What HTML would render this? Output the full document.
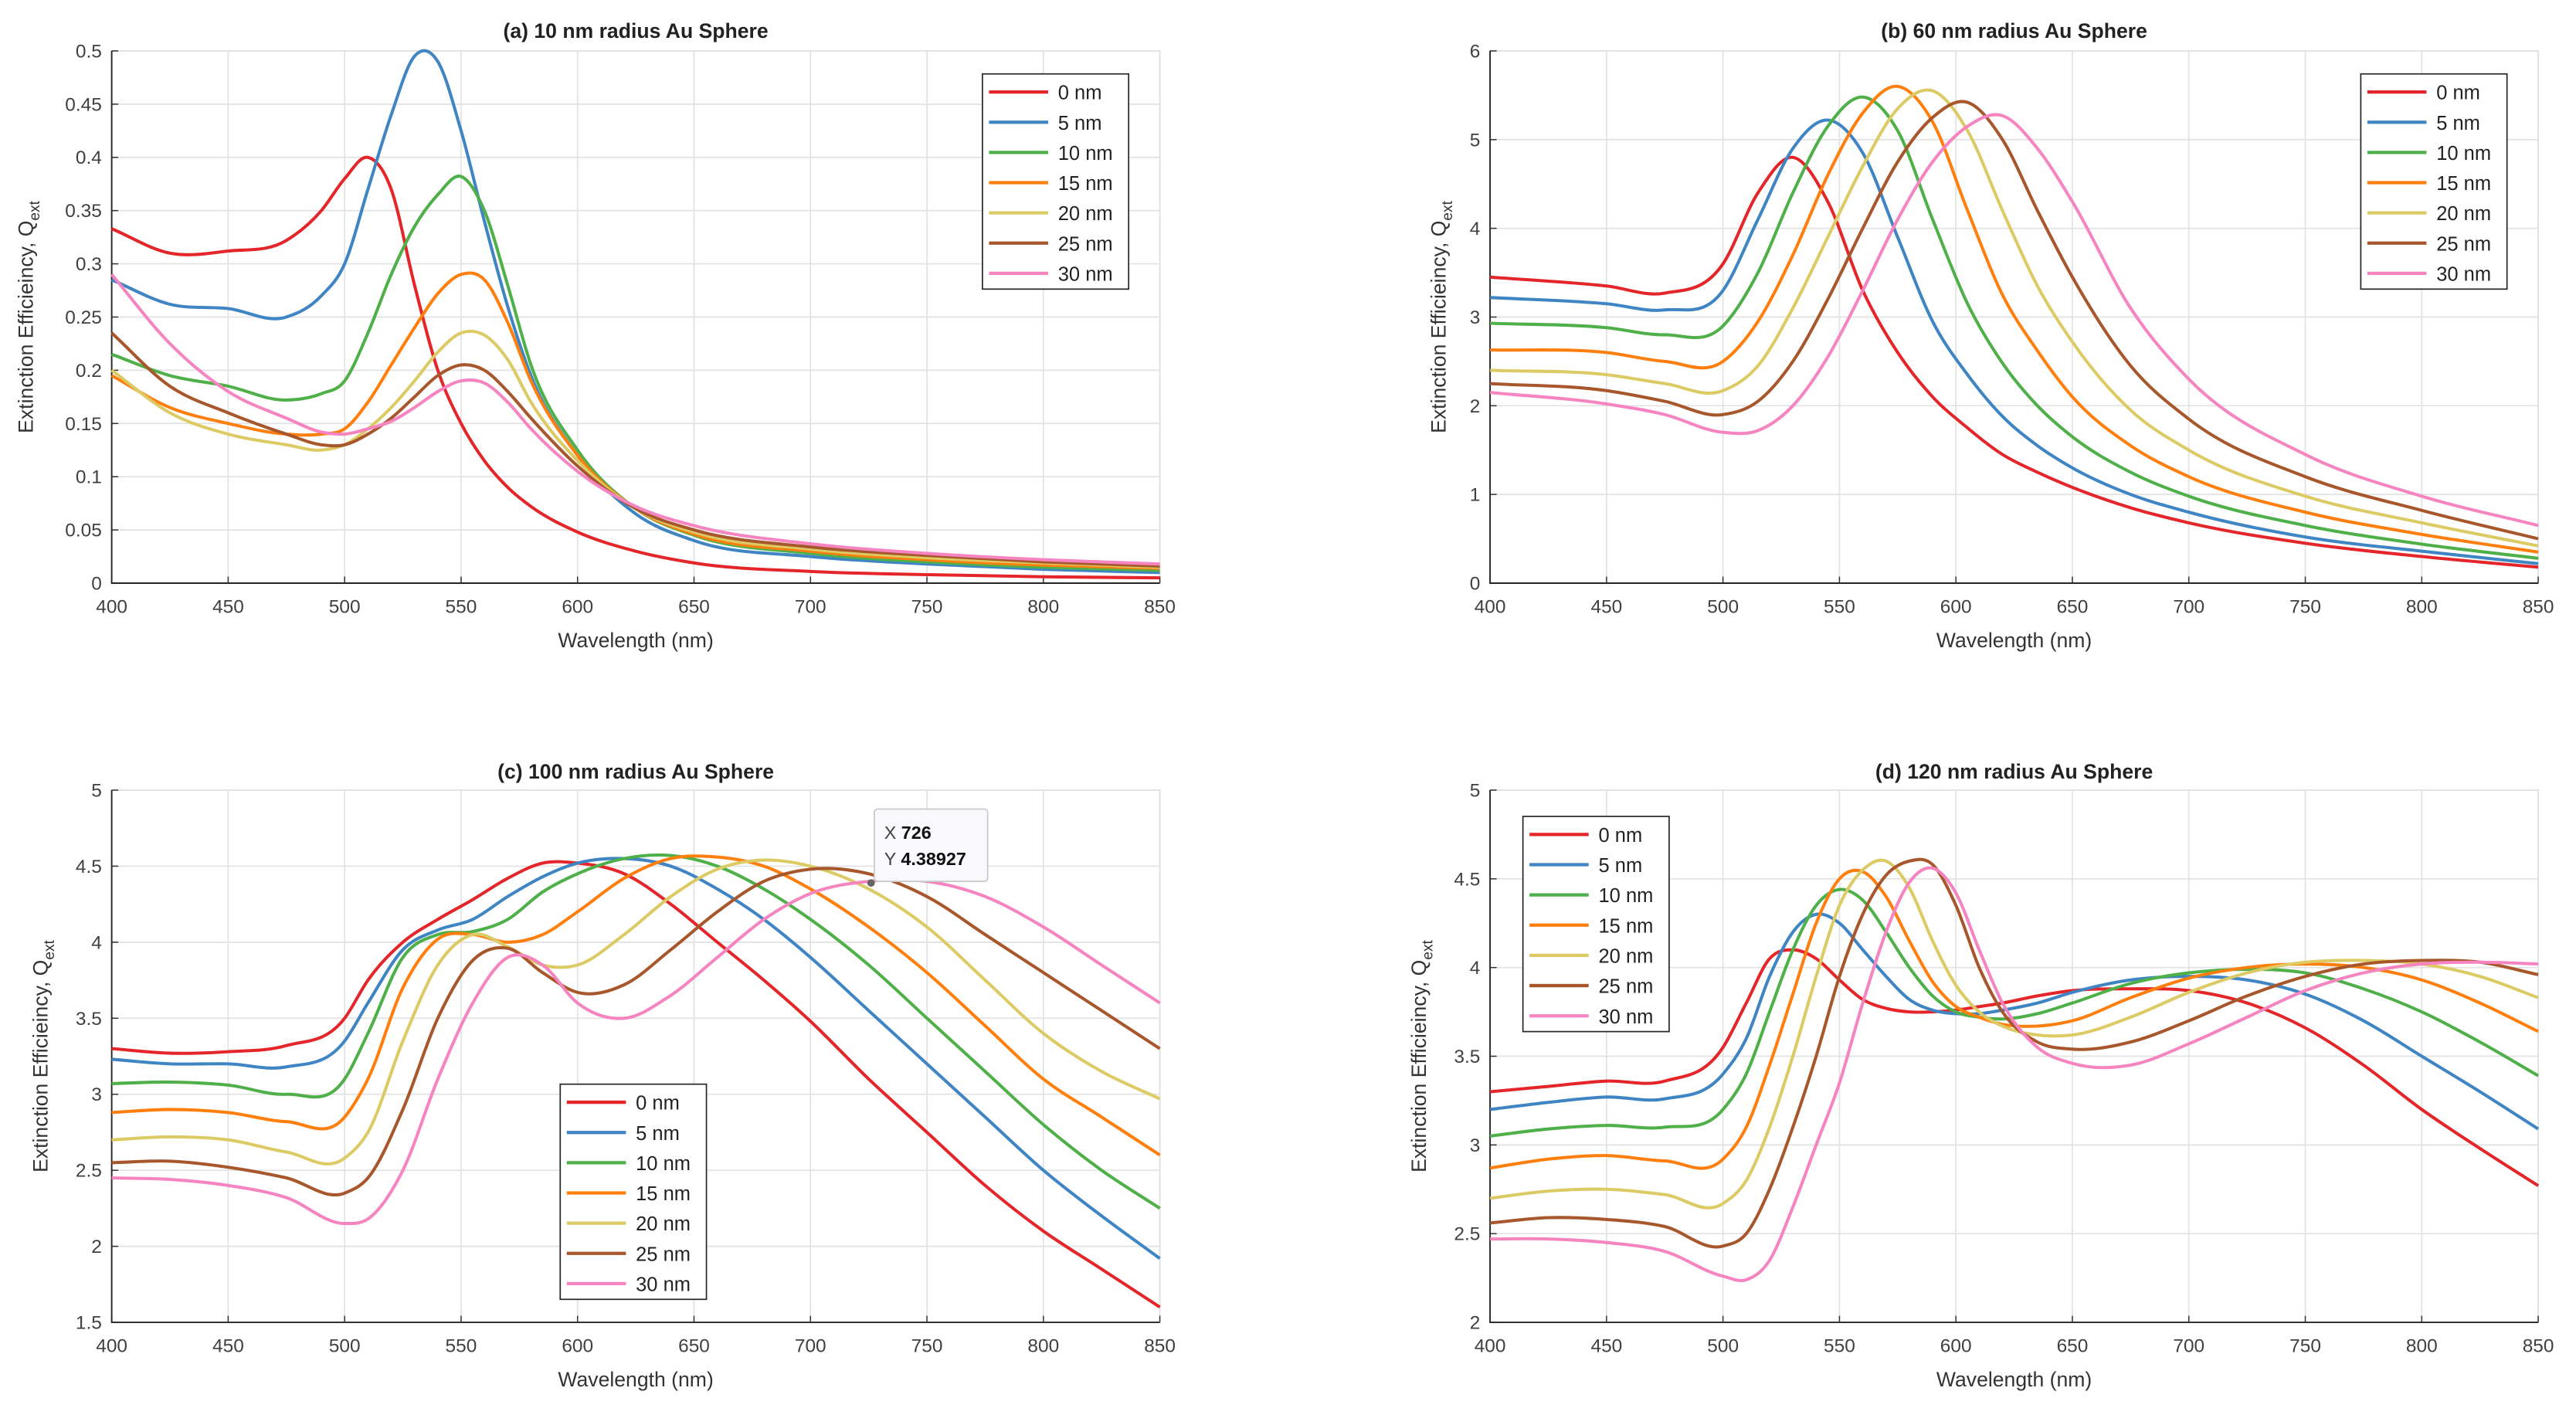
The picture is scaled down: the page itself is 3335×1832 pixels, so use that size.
<!DOCTYPE html>
<html><head><meta charset="utf-8">
<style>
html,body{margin:0;padding:0;background:#fff;}
svg{display:block;font-family:"Liberation Sans",sans-serif;}
</style></head>
<body>
<svg id="fig" width="3335" height="1832" viewBox="0 0 1568 861.4" preserveAspectRatio="none" xmlns="http://www.w3.org/2000/svg"></svg>
<script>
const seriesLabels = ["0 nm","5 nm","10 nm","15 nm","20 nm","25 nm","30 nm"];
const seriesColors = ["#e4262a","#3f85c4","#4fb04a","#ff7f0e","#dccb64","#a7572b","#f584c0"];

const xA = [400,425,450,475,490,500,510,520,530,540,550,560,570,580,600,625,650,700,750,800,850];
const aS0 = [0.333,0.31,0.312,0.322,0.35,0.38,0.40,0.37,0.28,0.2,0.15,0.115,0.09,0.072,0.048,0.03,0.019,0.011,0.008,0.006,0.005];
const aS5 = [0.285,0.262,0.258,0.25,0.27,0.30,0.37,0.44,0.495,0.49,0.425,0.34,0.26,0.195,0.12,0.065,0.04,0.025,0.018,0.013,0.01];
const aS10 = [0.215,0.195,0.185,0.172,0.178,0.19,0.235,0.29,0.335,0.365,0.382,0.35,0.28,0.205,0.125,0.07,0.045,0.028,0.02,0.015,0.012];
const aS15 = [0.195,0.165,0.15,0.14,0.14,0.145,0.17,0.205,0.24,0.272,0.29,0.285,0.245,0.19,0.12,0.07,0.046,0.03,0.022,0.017,0.014];
const aS20 = [0.2,0.16,0.14,0.13,0.125,0.13,0.145,0.165,0.19,0.217,0.235,0.233,0.21,0.17,0.115,0.07,0.048,0.032,0.024,0.019,0.015];
const aS25 = [0.235,0.185,0.16,0.14,0.13,0.13,0.14,0.155,0.175,0.195,0.205,0.2,0.18,0.155,0.11,0.07,0.05,0.034,0.026,0.02,0.016];
const aS30 = [0.29,0.225,0.18,0.155,0.142,0.14,0.145,0.152,0.165,0.18,0.19,0.188,0.17,0.145,0.105,0.072,0.054,0.037,0.028,0.022,0.018];

const xB = [400,450,475,500,515,530,545,560,575,590,605,620,635,650,675,700,750,800,850];
const bS0 = [3.45,3.35,3.27,3.6,4.4,4.8,4.3,3.3,2.6,2.1,1.75,1.45,1.25,1.08,0.85,0.68,0.45,0.3,0.18];
const bS5 = [3.22,3.15,3.08,3.3,4.1,4.9,5.22,4.85,3.9,2.95,2.35,1.88,1.55,1.3,1.0,0.8,0.52,0.36,0.22];
const bS10 = [2.93,2.88,2.8,2.9,3.5,4.4,5.15,5.48,5.1,4.1,3.15,2.48,2.0,1.65,1.25,0.98,0.65,0.44,0.28];
const bS15 = [2.63,2.6,2.5,2.5,2.95,3.7,4.6,5.3,5.6,5.2,4.2,3.25,2.62,2.1,1.55,1.2,0.8,0.55,0.35];
const bS20 = [2.4,2.35,2.25,2.17,2.45,3.1,3.9,4.7,5.35,5.55,5.1,4.2,3.35,2.72,1.95,1.5,0.98,0.68,0.42];
const bS25 = [2.25,2.17,2.05,1.9,2.05,2.5,3.2,4.0,4.75,5.25,5.42,5.0,4.2,3.45,2.45,1.85,1.2,0.82,0.5];
const bS30 = [2.15,2.02,1.9,1.7,1.72,2.0,2.55,3.3,4.1,4.75,5.15,5.27,4.9,4.3,3.1,2.3,1.45,0.98,0.65];

const xC = [400,425,450,475,500,510,525,540,555,570,585,600,620,640,660,680,700,725,750,775,800,825,850];
const cS0 = [3.3,3.27,3.28,3.32,3.5,3.75,4.0,4.15,4.28,4.42,4.52,4.52,4.45,4.25,4.0,3.75,3.48,3.1,2.75,2.4,2.1,1.85,1.6];
const cS5 = [3.23,3.2,3.2,3.18,3.35,3.6,3.95,4.08,4.15,4.3,4.43,4.52,4.55,4.5,4.35,4.15,3.9,3.55,3.2,2.85,2.5,2.2,1.92];
const cS10 = [3.07,3.08,3.06,3.0,3.1,3.4,3.9,4.05,4.07,4.15,4.33,4.45,4.55,4.57,4.5,4.35,4.15,3.85,3.5,3.15,2.8,2.5,2.25];
const cS15 = [2.88,2.9,2.88,2.82,2.85,3.1,3.7,4.02,4.05,4.0,4.05,4.2,4.42,4.55,4.56,4.5,4.35,4.1,3.8,3.45,3.1,2.85,2.6];
const cS20 = [2.7,2.72,2.7,2.62,2.58,2.75,3.35,3.85,4.05,3.97,3.85,3.85,4.05,4.3,4.48,4.54,4.5,4.35,4.1,3.75,3.4,3.15,2.97];
const cS25 = [2.55,2.56,2.52,2.45,2.35,2.45,2.9,3.5,3.88,3.96,3.8,3.67,3.72,3.95,4.2,4.4,4.48,4.45,4.3,4.05,3.8,3.55,3.3];
const cS30 = [2.45,2.44,2.4,2.32,2.15,2.18,2.5,3.1,3.6,3.9,3.85,3.6,3.5,3.65,3.9,4.15,4.32,4.4,4.4,4.3,4.1,3.85,3.6];

const xD = [400,425,450,475,500,510,520,530,540,550,560,570,580,590,600,610,620,635,650,675,700,725,750,775,800,825,850];
const dS0 = [3.3,3.33,3.36,3.36,3.55,3.8,4.05,4.1,4.05,3.93,3.82,3.77,3.75,3.75,3.76,3.78,3.8,3.84,3.87,3.88,3.87,3.8,3.66,3.45,3.2,2.98,2.77];
const dS5 = [3.2,3.24,3.27,3.26,3.4,3.6,3.95,4.2,4.3,4.25,4.1,3.95,3.82,3.76,3.74,3.74,3.76,3.8,3.86,3.93,3.95,3.93,3.85,3.7,3.5,3.3,3.09];
const dS10 = [3.05,3.09,3.11,3.1,3.2,3.4,3.75,4.1,4.35,4.44,4.38,4.2,4.0,3.84,3.75,3.72,3.71,3.74,3.8,3.91,3.97,3.99,3.97,3.88,3.75,3.58,3.39];
const dS15 = [2.87,2.92,2.94,2.91,2.92,3.1,3.45,3.85,4.25,4.5,4.54,4.4,4.15,3.92,3.78,3.72,3.68,3.67,3.7,3.83,3.94,4.0,4.02,4.0,3.93,3.8,3.64];
const dS20 = [2.7,2.74,2.75,2.72,2.67,2.8,3.1,3.5,3.95,4.35,4.55,4.6,4.45,4.15,3.9,3.75,3.67,3.62,3.62,3.72,3.86,3.97,4.03,4.04,4.02,3.95,3.83];
const dS25 = [2.56,2.59,2.58,2.54,2.43,2.5,2.75,3.1,3.5,3.95,4.3,4.52,4.6,4.58,4.35,4.0,3.75,3.58,3.54,3.58,3.7,3.84,3.95,4.02,4.04,4.03,3.96];
const dS30 = [2.47,2.47,2.45,2.4,2.26,2.24,2.35,2.65,3.0,3.35,3.8,4.2,4.48,4.56,4.42,4.1,3.8,3.55,3.46,3.45,3.57,3.72,3.87,3.97,4.02,4.03,4.02];

const xTicks = [400,450,500,550,600,650,700,750,800,850];
const yTicksA = [0,0.05,0.1,0.15,0.2,0.25,0.3,0.35,0.4,0.45,0.5];
const yTicksB = [0,1,2,3,4,5,6];
const yTicksC = [1.5,2,2.5,3,3.5,4,4.5,5];
const yTicksD = [2,2.5,3,3.5,4,4.5,5];
const titles = ["(a) 10 nm radius Au Sphere","(b) 60 nm radius Au Sphere","(c) 100 nm radius Au Sphere","(d) 120 nm radius Au Sphere"];
const tipX = 726, tipY = 4.38927;

const NS="http://www.w3.org/2000/svg";
const svg=document.getElementById('fig');
function mk(tag,attrs,parent){const e=document.createElementNS(NS,tag);for(const k in attrs)e.setAttribute(k,attrs[k]);(parent||svg).appendChild(e);return e;}
function slope(pts,i){
 const n=pts.length;
 if(i===0)return (pts[1][1]-pts[0][1])/(pts[1][0]-pts[0][0]);
 if(i===n-1)return (pts[n-1][1]-pts[n-2][1])/(pts[n-1][0]-pts[n-2][0]);
 const h0=pts[i][0]-pts[i-1][0],h1=pts[i+1][0]-pts[i][0];
 const d0=(pts[i][1]-pts[i-1][1])/h0,d1=(pts[i+1][1]-pts[i][1])/h1;
 return (d0*h1+d1*h0)/(h0+h1);
}
function smooth(pts){
 let d=`M${pts[0][0].toFixed(2)},${pts[0][1].toFixed(2)}`;
 for(let i=0;i<pts.length-1;i++){
  const p1=pts[i],p2=pts[i+1],h=p2[0]-p1[0];
  const m1=slope(pts,i),m2=slope(pts,i+1);
  d+=`C${(p1[0]+h/3).toFixed(2)},${(p1[1]+m1*h/3).toFixed(2)} ${(p2[0]-h/3).toFixed(2)},${(p2[1]-m2*h/3).toFixed(2)} ${p2[0].toFixed(2)},${p2[1].toFixed(2)}`;
 }
 return d;
}

const panels=[
 {id:'a',x0:68,x1:706,yb:355,yt:31,ymin:0,ymax:0.5,yt_:yTicksA,xs:xA,ser:[aS0,aS5,aS10,aS15,aS20,aS25,aS30],lg:[598,45],ylx:20,tty:19,xly:390},
 {id:'b',x0:907,x1:1545,yb:355,yt:31,ymin:0,ymax:6,yt_:yTicksB,xs:xB,ser:[bS0,bS5,bS10,bS15,bS20,bS25,bS30],lg:[1437,45],ylx:880,tty:19,xly:390},
 {id:'c',x0:68,x1:706,yb:805,yt:481,ymin:1.5,ymax:5,yt_:yTicksC,xs:xC,ser:[cS0,cS5,cS10,cS15,cS20,cS25,cS30],lg:[341,660],ylx:29,tty:470,xly:840},
 {id:'d',x0:907,x1:1545,yb:805,yt:481,ymin:2,ymax:5,yt_:yTicksD,xs:xD,ser:[dS0,dS5,dS10,dS15,dS20,dS25,dS30],lg:[927,497],ylx:868,tty:470,xly:840}
];

panels.forEach((P,pi)=>{
 const g=mk('g',{});
 
 
 const sx=v=>P.x0+(v-400)/(850-400)*(P.x1-P.x0);
 const sy=v=>P.yb-(v-P.ymin)/(P.ymax-P.ymin)*(P.yb-P.yt);
 const bg=mk('rect',{x:P.x0,y:P.yt,width:P.x1-P.x0,height:P.yb-P.yt,fill:'#fff',stroke:'#d6d6d6','stroke-width':0.8},g);
 
 
 xTicks.forEach(t=>{
  const l=mk('line',{x1:sx(t),x2:sx(t),y1:P.yt,y2:P.yb,stroke:'#e2e2e2','stroke-width':0.8},g);
  
  
  const tx=mk('text',{x:sx(t),y:P.yb+18,'font-size':11.5,fill:'#404040','text-anchor':'middle'},g);
  tx.textContent=t;
  
  
  mk('line',{x1:sx(t),x2:sx(t),y1:P.yb,y2:P.yb-4,stroke:'#333','stroke-width':0.7},g);
 });
 P.yt_.forEach(t=>{
  const l=mk('line',{x1:P.x0,x2:P.x1,y1:sy(t),y2:sy(t),stroke:'#e2e2e2','stroke-width':0.8},g);
  
  
  const tx=mk('text',{x:P.x0-6,y:sy(t)+4,'font-size':11.5,fill:'#404040','text-anchor':'end'},g);
  tx.textContent=t;
  
  
  mk('line',{x1:P.x0,x2:P.x0+4,y1:sy(t),y2:sy(t),stroke:'#333','stroke-width':0.7},g);
 });
 const ax=mk('path',{d:`M${P.x0},${P.yt}V${P.yb}H${P.x1}`,fill:'none',stroke:'#262626','stroke-width':0.9},g);
 
 
 P.ser.forEach((s,si)=>{
  const pts=P.xs.map((x,i)=>[sx(x),sy(s[i])]);
  const p=mk('path',{d:smooth(pts),fill:'none',stroke:seriesColors[si],'stroke-width':1.9,'stroke-linejoin':'round'},g);
  
  
 });
 const tt=mk('text',{x:(P.x0+P.x1)/2,y:P.tty+4,'font-size':12.5,'font-weight':'bold',fill:'#222','text-anchor':'middle'},g);
 tt.textContent=titles[pi];
 
 
 const xl=mk('text',{x:(P.x0+P.x1)/2,y:P.xly+4,'font-size':12.5,fill:'#333','text-anchor':'middle'},g);
 xl.textContent='Wavelength (nm)';
 
 
 const yc=(P.yt+P.yb)/2;
 const yl=mk('text',{x:0,y:0,'font-size':12.5,fill:'#333','text-anchor':'middle',transform:`translate(${P.ylx},${yc}) rotate(-90)`},g);
 
 
 const t1=mk('tspan',{},yl);t1.textContent='Extinction Efficieincy, Q';
 const t2=mk('tspan',{'font-size':9,dy:4},yl);t2.textContent='ext';
 const lgx=P.lg[0],lgy=P.lg[1];
 const lg=mk('g',{},g);
 
 
 mk('rect',{x:lgx,y:lgy,width:89,height:131,fill:'#fff',stroke:'#262626','stroke-width':0.8},lg);
 seriesLabels.forEach((lab,si)=>{
  const yy=lgy+11+si*18.4;
  const e=mk('g',{},lg);
  
  
  mk('line',{x1:lgx+4,x2:lgx+40,y1:yy,y2:yy,stroke:seriesColors[si],'stroke-width':2},e);
  const t=mk('text',{x:lgx+46,y:yy+4.5,'font-size':12,fill:'#222'},e);
  t.textContent=lab;
 });
 if(P.id==='c'){
  const tg=mk('g',{},g);
  
  
  const px=sx(tipX),py=sy(tipY);
  mk('rect',{x:px+2,y:py-45,width:69,height:44,rx:2,fill:'#f9f9fd',stroke:'#c8c8c8','stroke-width':0.8},tg);
  mk('circle',{cx:px,cy:py,r:2.3,fill:'#666'},tg);
  const a=mk('text',{x:px+8,y:py-27,'font-size':11,fill:'#444'},tg);
  a.textContent='X ';
  const ab=mk('tspan',{'font-weight':'bold',fill:'#111'},a);ab.textContent=tipX;
  const b=mk('text',{x:px+8,y:py-11,'font-size':11,fill:'#444'},tg);
  b.textContent='Y ';
  const bb=mk('tspan',{'font-weight':'bold',fill:'#111'},b);bb.textContent=tipY;
 }
});
</script>
</body></html>
